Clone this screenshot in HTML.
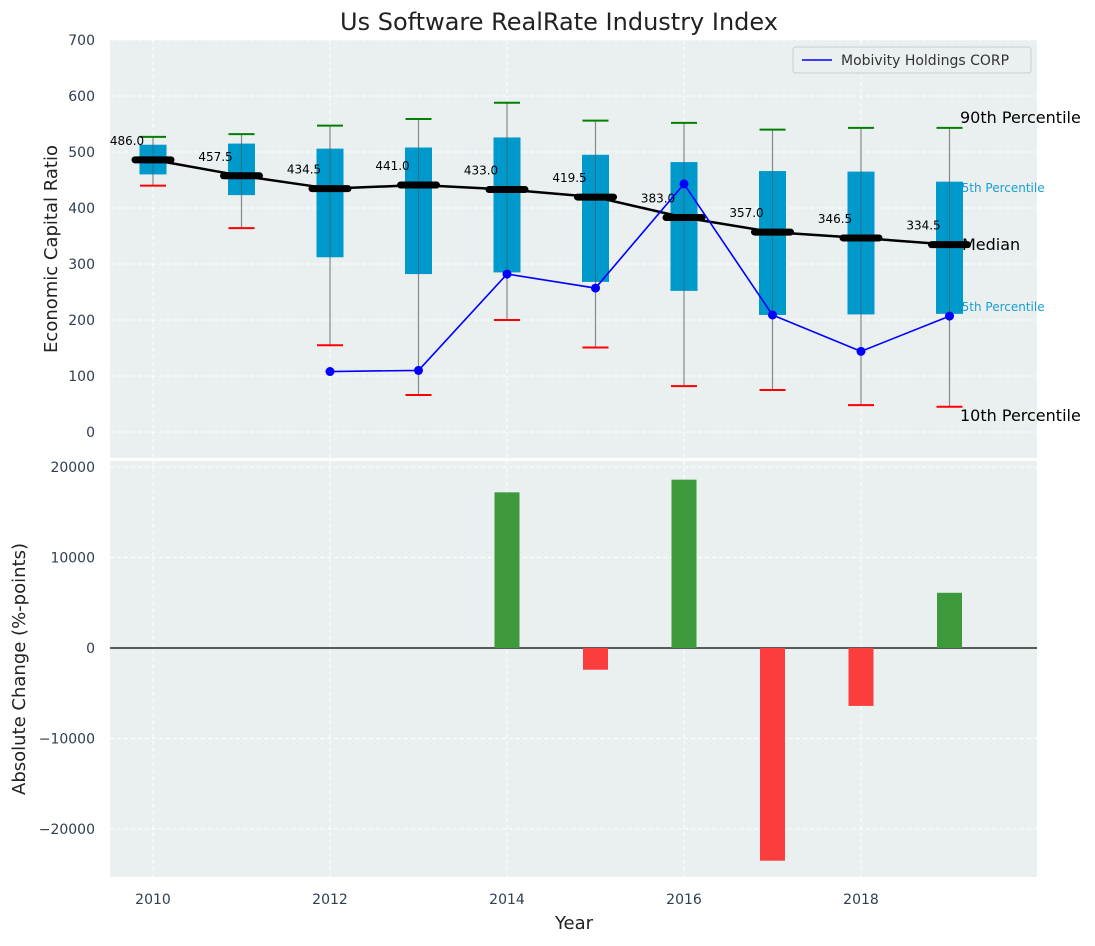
<!DOCTYPE html>
<html><head><meta charset="utf-8"><style>
body{margin:0;background:#fff;font-family:"DejaVu Sans","Liberation Sans",sans-serif;}
svg text{font-family:"DejaVu Sans","Liberation Sans",sans-serif;}
</style></head><body>
<svg id="c" width="1095" height="942" xmlns="http://www.w3.org/2000/svg">
<text x="559" y="30" font-size="24" text-anchor="middle" fill="#222">Us Software RealRate Industry Index</text>
<rect x="110" y="40" width="927" height="418" fill="#eaeff0"/>
<rect x="110" y="461" width="927" height="416" fill="#eaeff0"/>
<g id="grid"></g>
<g id="marks"></g>
<text x="960" y="123" font-size="16" fill="#000">90th Percentile</text>
<text x="954" y="192" font-size="12" fill="#1a9fd0">75th Percentile</text>
<text x="954" y="311" font-size="12" fill="#1a9fd0">25th Percentile</text>
<text x="960" y="421" font-size="16" fill="#000">10th Percentile</text>
<text x="962" y="250" font-size="16" fill="#000">Median</text>
<g id="top"></g>
<g>
<rect x="793" y="47" width="238" height="26" rx="3" fill="#eaeff0" stroke="#ccc"/>
<line x1="802" y1="60" x2="832" y2="60" stroke="#0000ff" stroke-width="1.6"/>
<text x="841" y="65" font-size="14" fill="#333">Mobivity Holdings CORP</text>
</g>
<text x="57" y="249" font-size="18" fill="#222" text-anchor="middle" transform="rotate(-90 57 249)">Economic Capital Ratio</text>
<text x="25" y="669" font-size="18" fill="#222" text-anchor="middle" transform="rotate(-90 25 669)">Absolute Change (%-points)</text>
<text x="574" y="929" font-size="18" fill="#222" text-anchor="middle">Year</text>
</svg>
<script>
const years=[2010,2011,2012,2013,2014,2015,2016,2017,2018,2019];
const p90=[527,532,547,559,588,556,552,540,543,543];
const p75=[513,515,506,508,526,495,482,466,465,447];
const median=[486,457.5,434.5,441,433,419.5,383,357,346.5,334.5];
const p25=[460,423,312,282,285,268,252,209,210,211];
const p10=[440,364,155,66,200,151,82,75,48,45];
const compYears=[2012,2013,2014,2015,2016,2017,2018,2019];
const compVals=[108,110,282,257,443,209,144,207];
const chgYears=[2014,2015,2016,2017,2018,2019];
const chgVals=[17200,-2400,18600,-23500,-6400,6100];
const topTicks=[0,100,200,300,400,500,600,700];
const botTicks=[-20000,-10000,0,10000,20000];
const xTicks=[2010,2012,2014,2016,2018];
const X=y=>153+(y-2010)*88.5;
const Y=v=>432-0.56*v;
const B=v=>648-v*0.00905;
const NS="http://www.w3.org/2000/svg";
function mk(p,t,a){const e=document.createElementNS(NS,t);for(const k in a)e.setAttribute(k,a[k]);document.getElementById(p).appendChild(e);return e;}
topTicks.forEach(t=>{
 const l=mk('grid','line',{x1:110,x2:1037,y1:Y(t),y2:Y(t),stroke:'#fff','stroke-dasharray':'4,3'});
 
 
 const tx=mk('grid','text',{x:95,y:Y(t)+5,'font-size':14,fill:'#2f3e50','text-anchor':'end'});tx.textContent=t;
 
 
});
botTicks.forEach(t=>{
 const l=mk('grid','line',{x1:110,x2:1037,y1:B(t),y2:B(t),stroke:'#fff','stroke-dasharray':'4,3'});
 
 
 const tx=mk('grid','text',{x:95,y:B(t)+5,'font-size':14,fill:'#2f3e50','text-anchor':'end'});tx.textContent=(t<0?'\u2212'+(-t):t);
 
 
});
xTicks.forEach(t=>{
 [[40,458],[461,877]].forEach(r=>{const l=mk('grid','line',{x1:X(t),x2:X(t),y1:r[0],y2:r[1],stroke:'#fff','stroke-dasharray':'4,3'});
 
 });
 const tx=mk('grid','text',{x:X(t),y:904,'font-size':14,fill:'#2f3e50','text-anchor':'middle'});tx.textContent=t;
 
 
});
const zl=mk('marks','line',{x1:110,x2:1037,y1:B(0),y2:B(0),stroke:'#000','stroke-width':1.2});


chgYears.forEach((yr,i)=>{const v=chgVals[i];
 const r=mk('marks','rect',{x:X(yr)-12.5,width:25,y:Math.min(B(v),B(0)),height:Math.abs(B(v)-B(0)),fill:v>=0?'#3c9a3c':'#fc3d3d'});
 
 
});
years.forEach((yr,i)=>{const x=X(yr);
 const w=mk('top','line',{x1:x,x2:x,y1:Y(p90[i]),y2:Y(p10[i]),stroke:'#888','stroke-width':1.2});
 
 
 const r=mk('top','rect',{x:x-13.5,width:27,y:Y(p75[i]),height:Y(p25[i])-Y(p75[i]),fill:'#0099cc'});
 
 
 const w2=mk('top','line',{x1:x,x2:x,y1:Y(p75[i]),y2:Y(p25[i]),stroke:'#555','stroke-width':1,opacity:0.6});
 
 
 const c1=mk('top','line',{x1:x-13,x2:x+13,y1:Y(p90[i]),y2:Y(p90[i]),stroke:'#008000','stroke-width':2});
 
 
 const c2=mk('top','line',{x1:x-13,x2:x+13,y1:Y(p10[i]),y2:Y(p10[i]),stroke:'#ff0000','stroke-width':2});
 
 
});
const mp=mk('top','polyline',{points:years.map((y,i)=>X(y)+','+Y(median[i])).join(' '),fill:'none',stroke:'#000','stroke-width':2.5});


years.forEach((yr,i)=>{const x=X(yr);
 const m=mk('top','line',{x1:x-18,x2:x+18,y1:Y(median[i]),y2:Y(median[i]),stroke:'#000','stroke-width':7,'stroke-linecap':'round'});
 
 
 const t=mk('top','text',{x:x-26,y:Y(median[i])-15,'font-size':12,fill:'#000','text-anchor':'middle'});t.textContent=median[i].toFixed(1);
 
 
});
const cl=mk('top','polyline',{points:compYears.map((y,i)=>X(y)+','+Y(compVals[i])).join(' '),fill:'none',stroke:'#0000ff','stroke-width':1.6});


compYears.forEach((yr,i)=>{
 const c=mk('top','circle',{cx:X(yr),cy:Y(compVals[i]),r:4.5,fill:'#0000ff'});
 
 
});
</script>
</body></html>
